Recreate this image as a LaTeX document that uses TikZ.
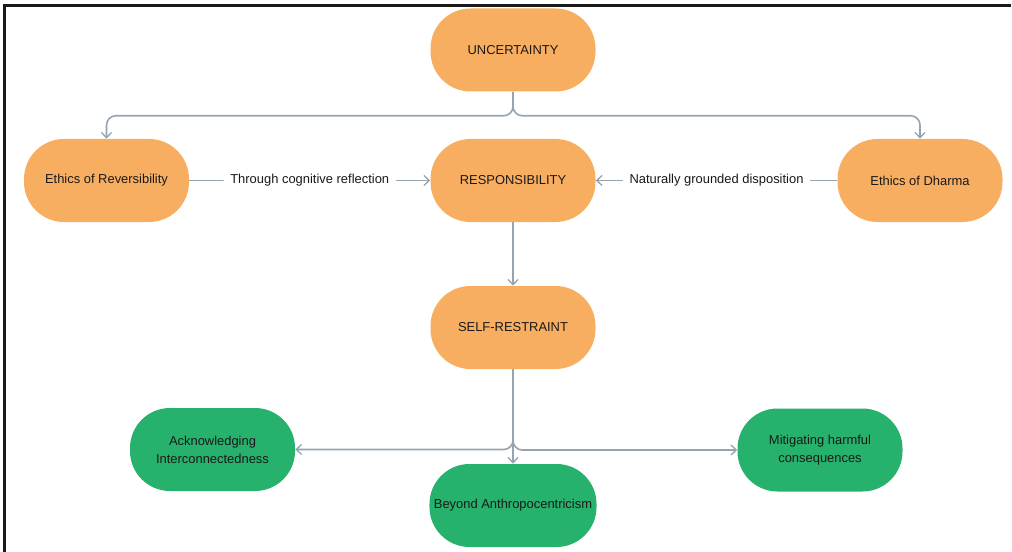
\documentclass[tikz,border=0pt]{standalone}
\usepackage{fontspec}
\setmainfont{Liberation Sans}
\usetikzlibrary{arrows.meta}

\definecolor{boxorange}{RGB}{248,174,96}
\definecolor{boxgreen}{RGB}{38,178,108}
\definecolor{linkgray}{RGB}{150,164,178}
\definecolor{inkdark}{RGB}{25,25,25}

\tikzset{
  pill/.style={draw=none, rounded corners=30pt, minimum width=123.75pt,
    minimum height=62.25pt, align=center, text=inkdark,
    font=\fontsize{9.7}{13.5}\selectfont},
  orangepill/.style={pill, fill=boxorange},
  greenpill/.style={pill, fill=boxgreen},
  link/.style={draw=linkgray, line width=1.2pt, rounded corners=7pt,
    -{Straight Barb[length=4pt, width=7.5pt, line width=1pt]}},
  linklabel/.style={fill=white, inner sep=5pt, text=inkdark,
    font=\fontsize{9.7}{11.6}\selectfont}
}

\begin{document}
\begin{tikzpicture}[x=0.75pt, y=-0.75pt]
    % Frame
    \useasboundingbox (0,0) rectangle (1012,552);
    \draw[inkdark, line width=1.8pt] (4.5,552) -- (4.5,5.5) -- (1011,5.5);

    % Define nodes
    \node[orangepill] (unc)  at (513,50)    {UNCERTAINTY};
    \node[orangepill] (rev)  at (106.5,180.5) {Ethics of Reversibility};
    \node[orangepill] (resp) at (513,180.5)  {RESPONSIBILITY};
    \node[orangepill] (dharma) at (920,180.5) {Ethics of Dharma};
    \node[orangepill] (self) at (513,327.5)  {SELF-RESTRAINT};
    \node[greenpill]  (ack)  at (212.5,449.5) {Acknowledging\\Interconnectedness};
    \node[greenpill]  (beyond) at (513,505.5) {Beyond Anthropocentricism};
    \node[greenpill]  (mit)  at (820,450)    {Mitigating harmful\\consequences};

    % Draw the upper branches
    \draw[link] (unc.south) -- ++(0,24) -| (rev.north);
    \draw[link] (unc.south) -- ++(0,24) -| (dharma.north);

    % Draw the side links
    \draw[link] (rev.east) -- (resp.west)
      node[midway, linklabel] {Through cognitive reflection};
    \draw[link] (dharma.west) -- (resp.east)
      node[midway, linklabel] {Naturally grounded disposition};
    \draw[link] (resp.south) -- (self.north);

    % Draw the lower branches
    \draw[link] (self.south) |- (ack.east);
    \draw[link] (self.south) |- (mit.west);
    \draw[link] (self.south) -- (beyond.north);
\end{tikzpicture}
\end{document}
